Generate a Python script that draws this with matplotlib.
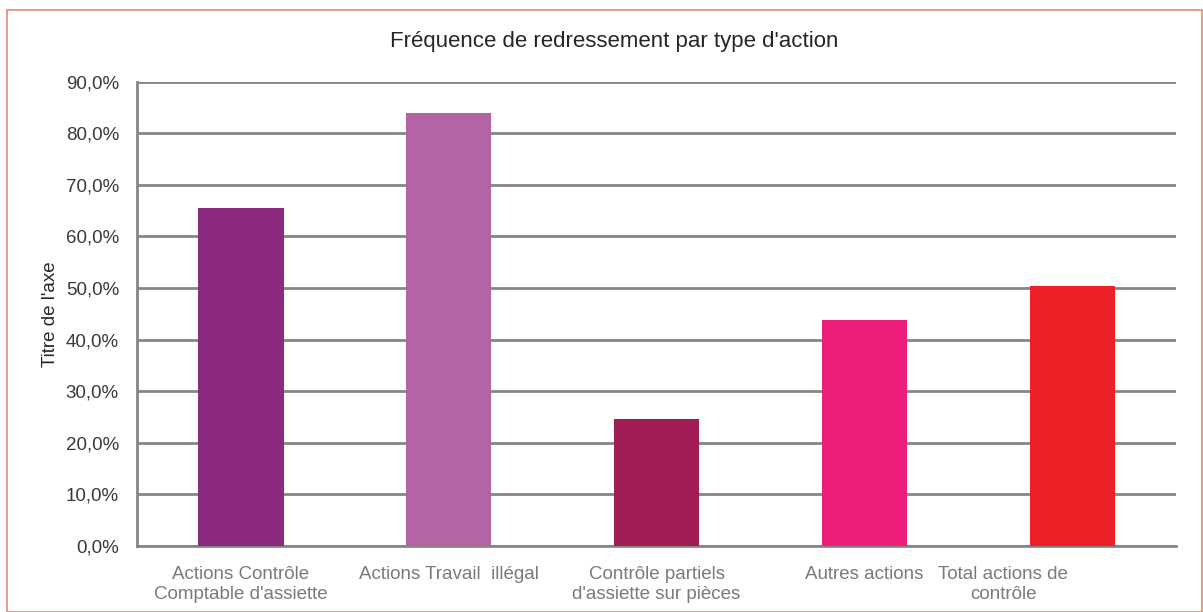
import matplotlib.pyplot as plt
from matplotlib.patches import Rectangle
from matplotlib.ticker import FuncFormatter
from matplotlib.transforms import ScaledTranslation

categories = ["Actions Contrôle\nComptable d'assiette",
              "Actions Travail  illégal",
              "Contrôle partiels\nd'assiette sur pièces",
              "Autres actions",
              "Total actions de\ncontrôle"]
values = [65.6, 84.0, 24.6, 43.8, 50.4]
colors = ["#8C2A80", "#B464A5", "#A01C55", "#EC1E79", "#EC2027"]
yticks = [0, 10, 20, 30, 40, 50, 60, 70, 80, 90]

plt.rcParams['font.family'] = ['Liberation Sans', 'DejaVu Sans']

fig = plt.figure(figsize=(12.03, 6.12), dpi=100)
ax = fig.add_axes([0.1139, 0.1078, 0.8637, 0.7587])

x = list(range(len(categories)))
ax.bar(x, values, width=0.41, color=colors, zorder=3)

ax.set_xlim(-0.5, len(categories) - 0.5)
ax.set_ylim(0, 90)
ax.set_yticks(yticks)
ax.yaxis.set_major_formatter(FuncFormatter(lambda v, p: ("%.1f%%" % v).replace(".", ",")))
ax.grid(axis='y', color='#868686', linewidth=2, zorder=0)
ax.set_axisbelow(True)

for s in ['top', 'right']:
    ax.spines[s].set_visible(False)
for s in ['left', 'bottom']:
    ax.spines[s].set_color('#868686')
    ax.spines[s].set_linewidth(2)

ax.tick_params(axis='y', length=0, pad=13, labelsize=13.5, labelcolor='#3A3A3A')
ax.tick_params(axis='x', length=0, pad=14.5, labelsize=13.5, labelcolor='#7A7A7A')
ax.set_xticks(x)
ax.set_xticklabels(categories, linespacing=1.18)

# the last label sits left of its bar in the original
last = ax.get_xticklabels()[-1]
last.set_transform(last.get_transform() + ScaledTranslation(-0.69, 0, fig.dpi_scale_trans))

ax.set_ylabel("Titre de l'axe", fontsize=13.5, color='#262626', labelpad=5)

fig.text(614 / 1203, 1 - 42 / 612, "Fréquence de redressement par type d'action",
         ha='center', va='center', fontsize=16, color='#262626')

fig.patches.append(Rectangle((7 / 1203, 0), 1195 / 1203, 1 - 10 / 612,
                             transform=fig.transFigure, fill=False,
                             edgecolor='#E8877A', linewidth=1.2))

fig.savefig("out.png", dpi=100)
